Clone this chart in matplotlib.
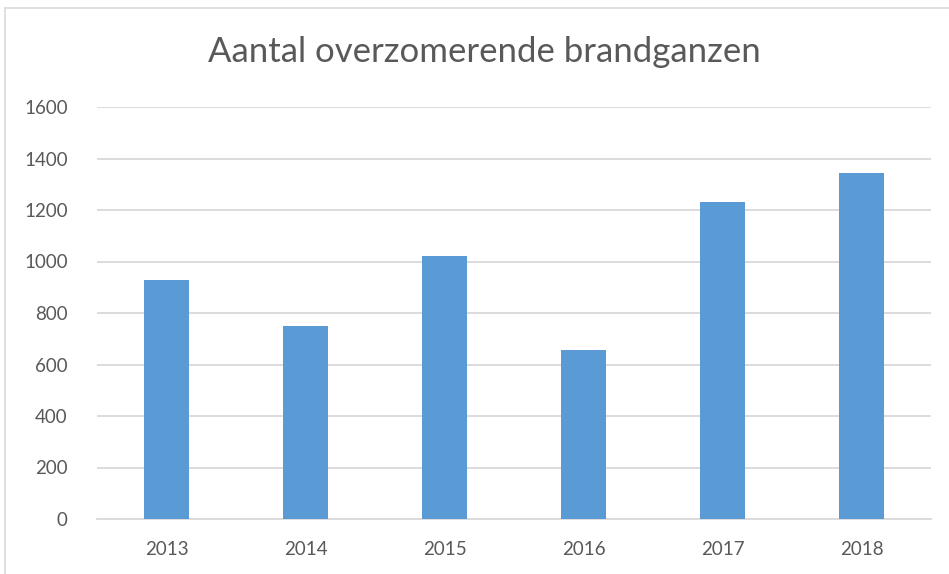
import matplotlib
matplotlib.use("Agg")
import matplotlib.pyplot as plt
from matplotlib.patches import Rectangle

jaren = ["2013", "2014", "2015", "2016", "2017", "2018"]
aantal = [930, 750, 1020, 655, 1230, 1345]
y_ticks = [0, 200, 400, 600, 800, 1000, 1200, 1400, 1600]

plt.rcParams['font.family'] = ['Lato', 'DejaVu Sans']

W, H = 949, 574
fig = plt.figure(figsize=(W / 100, H / 100), dpi=100)

# lichte rand om het diagram
fig.patches.append(Rectangle((5 / W, -0.1), 1.2, 1 - 8 / H + 0.1, transform=fig.transFigure,
                             fill=False, edgecolor='#d9d9d9', linewidth=1.2))

ax = fig.add_axes([97 / W, 1 - 519 / H, (931 - 97) / W, (519 - 107) / H])
x = range(len(jaren))
ax.bar(x, aantal, width=0.32, color='#5b9bd5', zorder=3)
ax.set_xlim(-0.5, len(jaren) - 0.5)
ax.set_ylim(0, 1600)
ax.set_yticks(y_ticks)
ax.set_xticks(list(x))
ax.set_xticklabels(jaren)
ax.grid(axis='y', color='#d9d9d9', linewidth=1.3, zorder=0)
for s in ['top', 'right', 'left']:
    ax.spines[s].set_visible(False)
ax.spines['bottom'].set_color('#d9d9d9')
ax.spines['bottom'].set_linewidth(1.3)
ax.tick_params(length=0, colors='#595959', labelsize=13.5)
ax.tick_params(axis='y', pad=21)
ax.tick_params(axis='x', pad=16)

fig.text(484 / W, 1 - 52 / H, "Aantal overzomerende brandganzen", ha='center', va='center',
         fontsize=25, color='#595959')

fig.savefig("out.png", dpi=100)
